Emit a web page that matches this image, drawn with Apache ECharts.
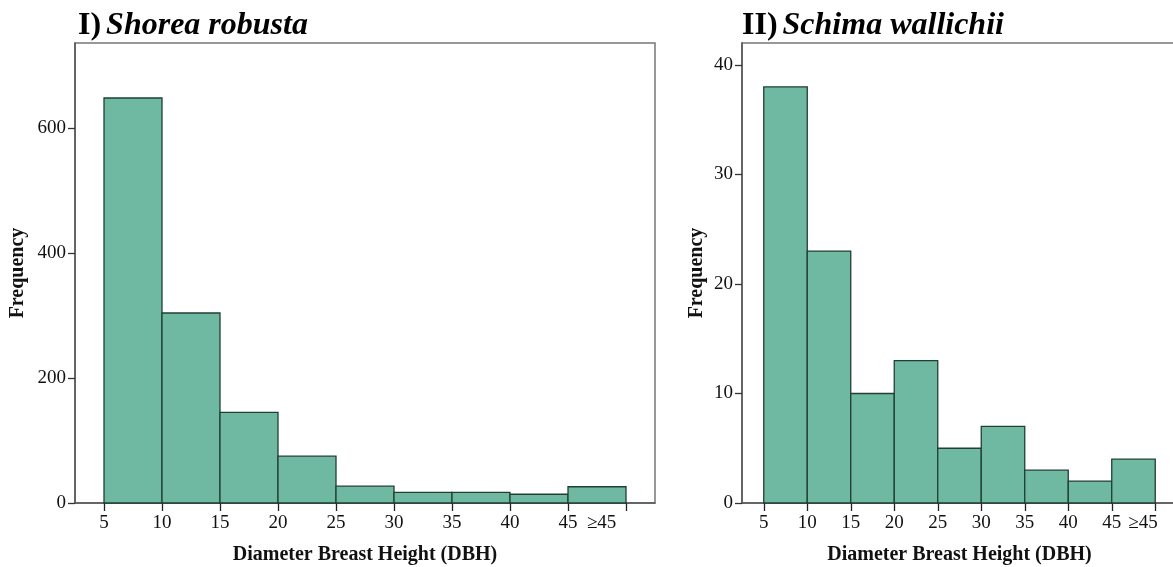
<!DOCTYPE html>
<html>
<head>
<meta charset="utf-8">
<script src="https://cdn.jsdelivr.net/npm/echarts@6/dist/echarts.min.js"></script>
<style>
html,body{margin:0;padding:0;background:#ffffff;}
#chart{width:1173px;height:567px;}
</style>
</head>
<body>
<div id="chart"></div>
<script>
// ---- data ----
const binStarts = [5, 10, 15, 20, 25, 30, 35, 40, 45];
const binEnds = [10, 15, 20, 25, 30, 35, 40, 45, 50];
const shoreaFreq = [648, 304, 145, 75, 27, 17, 17, 14, 26];
const schimaFreq = [38, 23, 10, 13, 5, 7, 3, 2, 4];
const xTickValues = [5, 10, 15, 20, 25, 30, 35, 40, 45, 50];
const xTickLabels = ['5', '10', '15', '20', '25', '30', '35', '40', '45'];
const lastBinLabel = '\u226545';
const shoreaYTicks = [0, 200, 400, 600];
const schimaYTicks = [0, 10, 20, 30, 40];
const titles = [['I)', 'Shorea robusta'], ['II)', 'Schima wallichii']];
const xName = 'Diameter Breast Height (DBH)';
const yName = 'Frequency';

// ---- styling ----
const FONT = '"Liberation Serif", "Times New Roman", serif';
const BAR_FILL = '#6fb9a2';
const BAR_STROKE = '#213f33';

const chart = echarts.init(document.getElementById('chart'), null, {renderer: 'canvas'});

function labelPositions(lastPos) {
  return xTickLabels.map(Number).concat([lastPos]);
}
function fmtX(v) {
  return v > 45.5 ? lastBinLabel : String(v);
}

function makeX(gridIndex, lastPos) {
  return {
    type: 'value', gridIndex: gridIndex, min: 2.5, max: 52.5,
    splitLine: {show: false},
    axisLine: {show: true, onZero: false, lineStyle: {color: '#555', width: 1.5}},
    axisTick: {show: true, length: 8, customValues: xTickValues, lineStyle: {color: '#222', width: 1.3}},
    axisLabel: {customValues: labelPositions(lastPos), formatter: fmtX, margin: 11,
      color: '#111', fontFamily: FONT, fontSize: 19},
    name: xName, nameLocation: 'middle', nameGap: 42,
    nameTextStyle: {fontFamily: FONT, fontWeight: 'bold', fontSize: 20, color: '#111'}
  };
}
function makeY(gridIndex, max, ticks, gap) {
  return {
    type: 'value', gridIndex: gridIndex, min: 0, max: max,
    splitLine: {show: false},
    axisLine: {show: true, lineStyle: {color: '#555', width: 1.5}},
    axisTick: {show: true, length: 7, customValues: ticks, lineStyle: {color: '#333', width: 1.3}},
    axisLabel: {customValues: ticks, margin: 9, color: '#111', fontFamily: FONT, fontSize: 19},
    name: yName, nameLocation: 'middle', nameGap: gap, nameRotate: 90,
    nameTextStyle: {fontFamily: FONT, fontWeight: 'bold', fontSize: 20, color: '#111'}
  };
}
function makeSeries(idx, freq) {
  return {
    type: 'custom', xAxisIndex: idx, yAxisIndex: idx,
    data: binStarts.map((s, i) => [s, binEnds[i], freq[i]]),
    encode: {x: [0, 1], y: 2},
    renderItem: function (params, api) {
      const p0 = api.coord([api.value(0), api.value(2)]);
      const p1 = api.coord([api.value(1), 0]);
      return {
        type: 'rect',
        shape: {x: p0[0], y: p0[1], width: p1[0] - p0[0], height: p1[1] - p0[1]},
        style: {fill: BAR_FILL, stroke: BAR_STROKE, lineWidth: 1.3}
      };
    },
    z: 3
  };
}
function makeTitle(i, left) {
  return {
    text: '{a|' + titles[i][0] + '} {b|' + titles[i][1] + '}',
    left: left, top: 10, padding: 0,
    textStyle: {
      rich: {
        a: {fontFamily: FONT, fontWeight: 'bold', fontSize: 32, color: '#000'},
        b: {fontFamily: FONT, fontWeight: 'bold', fontStyle: 'italic', fontSize: 32, color: '#000'}
      }
    }
  };
}

chart.setOption({
  backgroundColor: '#ffffff',
  animation: false,
  title: [makeTitle(0, 78), makeTitle(1, 742)],
  grid: [
    {left: 75, top: 43, width: 580, height: 460, show: true, borderColor: '#777', borderWidth: 1.5,
      backgroundColor: 'transparent', containLabel: false, outerBoundsMode: 'none'},
    {left: 742, top: 43, width: 435, height: 460, show: true, borderColor: '#777', borderWidth: 1.5,
      backgroundColor: 'transparent', containLabel: false, outerBoundsMode: 'none'}
  ],
  xAxis: [makeX(0, 47.9), makeX(1, 48.6)],
  yAxis: [makeY(0, 736, shoreaYTicks, 47), makeY(1, 42, schimaYTicks, 35)],
  series: [makeSeries(0, shoreaFreq), makeSeries(1, schimaFreq)]
});
</script>
</body>
</html>
